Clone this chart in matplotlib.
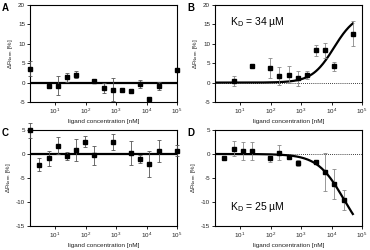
import numpy as np
import matplotlib
matplotlib.use("Agg")
import matplotlib.pyplot as plt

matplotlib.rcParams.update({
    'font.family': ['Liberation Sans', 'DejaVu Sans'],
    'font.size': 4.5,
    'axes.unicode_minus': False,
    'mathtext.fontset': 'custom',
    'mathtext.rm': 'Liberation Sans',
    'mathtext.it': 'Liberation Sans',
})

# ligand concentrations [nM] and normalised fluorescence change [%]
conc_a = [1.53, 6.1, 12.2, 24.4, 48.8, 195, 390, 781, 1562, 3125, 6250, 12500, 25000, 100000]
dF_a = [3.6, -1.0, -0.8, 1.4, 2.0, 0.4, -1.4, -1.8, -1.8, -2.1, -0.4, -4.3, -0.9, 3.3]
err_a = [2.0, 0.5, 2.5, 1.2, 0.9, 0.2, 1.3, 3.0, 0.3, 0.3, 1.1, 0.3, 1.0, 0.3]

conc_b = [6.1, 24.4, 97.7, 195, 390, 781, 1562, 3125, 6250, 12500, 50000]
dF_b = [0.4, 4.4, 3.7, 1.6, 2.0, 1.1, 2.0, 8.3, 8.3, 4.2, 12.6]
err_b = [1.4, 0.4, 2.6, 2.3, 2.2, 2.0, 1.1, 1.4, 2.0, 1.1, 3.2]

conc_c = [1.53, 3.05, 6.1, 12.2, 24.4, 48.8, 97.7, 195, 781, 3125, 6250, 12500, 25000, 100000]
dF_c = [4.9, -2.2, -0.9, 1.7, -0.4, 0.8, 2.6, -0.3, 2.5, 0.3, -1.0, -2.0, 0.6, 0.7]
err_c = [1.5, 1.3, 1.6, 1.8, 0.8, 2.3, 1.2, 1.9, 1.6, 2.5, 0.8, 2.7, 2.3, 1.1]

conc_d = [3.05, 6.1, 12.2, 24.4, 97.7, 195, 390, 781, 3125, 6250, 12500, 25000]
dF_d = [-0.9, 1.1, 0.6, 0.7, -0.9, 0.3, -0.6, -1.9, -1.7, -3.8, -6.2, -9.6]
err_d = [0.2, 1.6, 1.9, 1.9, 0.7, 1.6, 0.3, 0.7, 0.3, 4.0, 3.1, 2.0]

# fit parameters (amplitude [%], midpoint [nM], hill slope)
fit_b = (18.0, 12000.0, 1.2)
fit_d = (-18.75, 25000.0, 1.0)
kd_labels = {'B': '34', 'D': '25'}

XLIM = (1.5, 1e5)
W, H = 370, 250


def px_axes(fig, left, top, right, bottom):
    return fig.add_axes([left / W, 1 - bottom / H, (right - left) / W, (bottom - top) / H])


def style(ax, ylim, yticks):
    ax.set_xscale('log')
    ax.set_xlim(*XLIM)
    ax.set_ylim(*ylim)
    ax.set_yticks(yticks)
    ax.set_xticks([10, 100, 1e3, 1e4, 1e5])
    ax.set_xticklabels([r'$10^{%d}$' % i for i in range(1, 6)])
    ax.xaxis.set_minor_locator(matplotlib.ticker.NullLocator())
    for s in ax.spines.values():
        s.set_linewidth(0.8)
    ax.tick_params(length=2, width=0.7, pad=1.5, labelsize=4.5, colors='#222222')
    ax.set_xlabel('ligand concentration [nM]', fontsize=4.6, labelpad=2, color='#222222')
    ax.set_ylabel(r'$\Delta$F$_{Norm}$ [%]', fontsize=4.4, labelpad=2, color='#222222')


def points(ax, x, y, e, ecol):
    ax.errorbar(x, y, yerr=e, fmt='none', ecolor=ecol, elinewidth=0.6,
                capsize=1.5, capthick=0.6, clip_on=False, zorder=3)
    ax.plot(x, y, 's', color='black', markersize=3.2, clip_on=False, zorder=4)


def hill(c, amp, mid, n):
    c = np.asarray(c)
    return amp * c ** n / (mid ** n + c ** n)


fig = plt.figure(figsize=(W / 100, H / 100), dpi=100)

axA = px_axes(fig, 30, 5, 177, 102)
axB = px_axes(fig, 215, 5, 362, 102)
axC = px_axes(fig, 30, 130, 177, 226)
axD = px_axes(fig, 215, 130, 362, 226)

# A
style(axA, (-5, 20), [-5, 0, 5, 10, 15, 20])
axA.axhline(0, color='black', lw=1.6, zorder=2)
points(axA, conc_a, dF_a, err_a, '#555555')

# B
style(axB, (-5, 20), [-5, 0, 5, 10, 15, 20])
axB.axhline(0, color='black', lw=0.6, ls=(0, (1, 1.5)), zorder=1)
xs = np.logspace(np.log10(XLIM[0]), np.log10(50000), 200)
axB.plot(xs, hill(xs, *fit_b), color='black', lw=1.6, zorder=2)
points(axB, conc_b, dF_b, err_b, '#888888')
axB.text(0.1, 0.82, r'K$_\mathrm{D}$ = %s µM' % kd_labels['B'], transform=axB.transAxes,
         fontsize=7.5, va='center')

# C
style(axC, (-15, 5), [-15, -10, -5, 0, 5])
axC.axhline(0, color='black', lw=1.6, zorder=2)
points(axC, conc_c, dF_c, err_c, '#555555')

# D
style(axD, (-15, 5), [-15, -10, -5, 0, 5])
axD.axhline(0, color='black', lw=0.6, ls=(0, (1, 1.5)), zorder=1)
axD.plot(xs, hill(xs, *fit_d), color='black', lw=1.6, zorder=2)
points(axD, conc_d, dF_d, err_d, '#888888')
axD.text(0.1, 0.2, r'K$_\mathrm{D}$ = %s µM' % kd_labels['D'], transform=axD.transAxes,
         fontsize=7.5, va='center')

for lab, (x, y) in zip('ABCD', [(2, 8), (187, 8), (2, 133), (187, 133)]):
    fig.text(x / W, 1 - y / H, lab, fontsize=7, fontweight='bold', va='center', ha='left')

fig.savefig('out.png', dpi=100)
